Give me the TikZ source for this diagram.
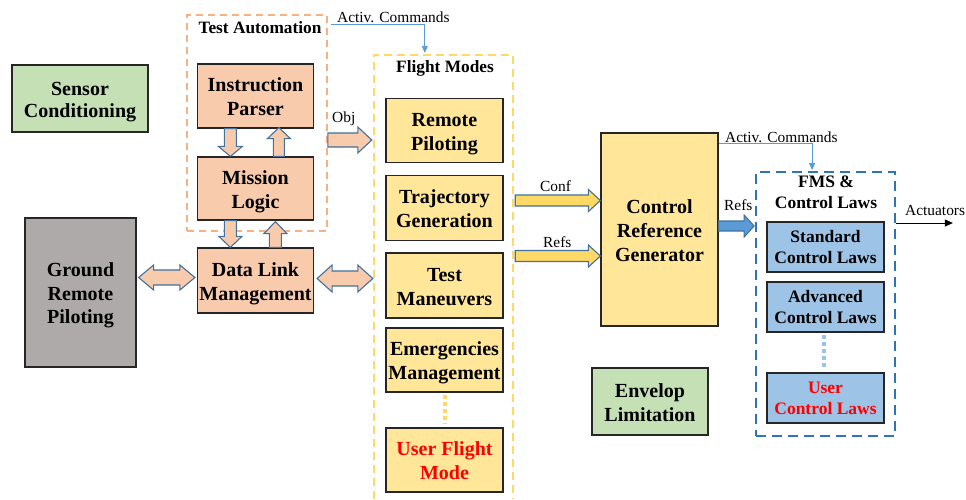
\documentclass[tikz,border=0pt]{standalone}
\usepackage{fontspec}
\setmainfont{Liberation Serif}
\usetikzlibrary{calc,arrows.meta}
\definecolor{peach}{HTML}{F8CBAD}
\definecolor{peachdash}{HTML}{F4B183}
\definecolor{boxline}{HTML}{262626}
\definecolor{arrline}{HTML}{41719C}
\definecolor{grayfill}{HTML}{AEAAAA}
\definecolor{greenfill}{HTML}{C5E0B4}
\definecolor{yellowfill}{HTML}{FFE699}
\definecolor{yellowarr}{HTML}{FFD966}
\definecolor{yellowdash}{HTML}{FFD966}
\definecolor{bluefill}{HTML}{9DC3E6}
\definecolor{bluearr}{HTML}{5B9BD5}
\definecolor{bluedash}{HTML}{2E75B6}
\definecolor{redtext}{HTML}{FF0000}
\newcommand\tS{\rule{0pt}{20pt}}
\newcommand\tSs{\rule{0pt}{16pt}}
\newcommand\blockarr[6]{% style, A, B, shaft half, head half, head length
  \coordinate (tmpH) at ($#3!#6!#2$);
  \path[#1] ($#2!#4!90:#3$) -- ($(tmpH)!#4!-90:#2$) -- ($(tmpH)!#5!-90:#2$) -- #3
    -- ($(tmpH)!#5!90:#2$) -- ($(tmpH)!#4!90:#2$) -- ($#2!#4!-90:#3$) -- cycle;
}
\newcommand\dblockarr[6]{% style, A, B, shaft half, head half, head length
  \coordinate (tmpHa) at ($#2!#6!#3$);
  \coordinate (tmpHb) at ($#3!#6!#2$);
  \path[#1] #2 -- ($(tmpHa)!#5!90:#3$) -- ($(tmpHa)!#4!90:#3$) -- ($(tmpHb)!#4!-90:#2$)
    -- ($(tmpHb)!#5!-90:#2$) -- #3 -- ($(tmpHb)!#5!90:#2$) -- ($(tmpHb)!#4!90:#2$)
    -- ($(tmpHa)!#4!-90:#3$) -- ($(tmpHa)!#5!-90:#3$) -- cycle;
}
\tikzset{
  botstrut/.style={execute at end node={\rule[-#1]{0pt}{0pt}}},
  box/.style={draw=boxline, line width=1.2pt, inner sep=0pt, align=center,
    font=\fontsize{20}{24}\selectfont\bfseries, botstrut=4.4pt},
  smallbox/.style={box, font=\fontsize{17.5}{20.5}\selectfont\bfseries, botstrut=4pt},
  grouptitle/.style={inner sep=0pt, anchor=base, font=\fontsize{17.3}{20}\selectfont\bfseries, align=center},
  lbl/.style={inner sep=0pt, anchor=base west, font=\fontsize{15.4}{18}\selectfont},
  peacharr/.style={draw=arrline, fill=peach, line width=1.1pt, line join=miter},
  yellowarrow/.style={draw=arrline, fill=yellowarr, line width=1.1pt, line join=miter},
  bluearrow/.style={draw=arrline, fill=bluearr, line width=1.1pt, line join=miter},
  act/.style={draw=bluearr, line width=0.9pt, -{Triangle[length=7pt,width=6pt]}},
  actu/.style={draw=black, line width=1pt, -{Triangle[length=8pt,width=7pt]}},
  tadash/.style={draw=peachdash, line width=1.8pt, dash pattern=on 7pt off 5pt},
  fmdash/.style={draw=yellowdash, line width=1.8pt, dash pattern=on 8pt off 5pt},
  fmsdash/.style={draw=bluedash, line width=1.8pt, dash pattern=on 10pt off 6pt},
}
\begin{document}
\begin{tikzpicture}[x=1pt,y=-1pt]
\useasboundingbox[fill=white] (0,0) rectangle (966,499);

% groups
\node[tadash, minimum width=140pt, minimum height=216pt, inner sep=0pt] (ta) at (257,123) {};
\node[minimum width=139pt, minimum height=444pt, inner sep=0pt] (fm) at (443.5,277) {};
\draw[fmdash] (fm.south west) -- (fm.north west) -- (fm.north east) -- (fm.south east);
\node[fmsdash, minimum width=139pt, minimum height=264pt, inner sep=0pt] (fms) at (825.5,304) {};

\node[grouptitle] (tat) at (260,33) {Test Automation};
\node[grouptitle] (fmt) at (445,72) {Flight Modes};
\node[grouptitle, anchor=center, botstrut=4pt, font=\fontsize{17.5}{21}\selectfont\bfseries] (fmst) at (826,192) {\tSs FMS \&\\Control Laws};

% left blocks
\node[box, fill=greenfill, minimum width=136pt, minimum height=67pt,
  font=\fontsize{20}{22.5}\selectfont\bfseries] (sc) at (80,98.5) {\tS Sensor\\Conditioning};
\node[box, fill=grayfill, minimum width=111pt, minimum height=149pt,
  font=\fontsize{20}{23.5}\selectfont\bfseries] (grp) at (80.5,292.5) {\tS Ground\\Remote\\Piloting};

% test automation
\node[box, fill=peach, minimum width=116pt, minimum height=64pt] (ip) at (255.5,96) {\tS Instruction\\Parser};
\node[box, fill=peach, minimum width=116pt, minimum height=63pt] (ml) at (255.5,188.5) {\tS Mission\\Logic};
\node[box, fill=peach, minimum width=116pt, minimum height=65pt] (dl) at (255.5,280.5) {\tS Data Link\\Management};

% flight modes
\node[box, fill=yellowfill, minimum width=117pt, minimum height=64pt] (rp) at (444.5,130.5) {\tS Remote\\Piloting};
\node[box, fill=yellowfill, minimum width=117pt, minimum height=65pt] (tg) at (444.5,208) {\tS Trajectory\\Generation};
\node[box, fill=yellowfill, minimum width=117pt, minimum height=65pt] (tm) at (444.5,285.5) {\tS Test\\Maneuvers};
\node[box, fill=yellowfill, minimum width=117pt, minimum height=64pt] (em) at (444.5,360) {\tS Emergencies\\Management};
\node[box, fill=yellowfill, minimum width=117pt, minimum height=64pt, text=redtext] (uf) at (444.5,460) {\tS User Flight\\Mode};
\draw[draw=yellowarr, line width=4pt, dash pattern=on 4pt off 3pt, shorten <=2pt, shorten >=4pt] (em.south) -- (uf.north);

% control reference generator and envelope
\node[box, fill=yellowfill, minimum width=117pt, minimum height=193pt] (crg) at (659.5,229.5) {\tS Control\\Reference\\Generator};
\node[box, fill=greenfill, minimum width=116pt, minimum height=67pt] (env) at (650,401.5) {\tS Envelop\\Limitation};

% FMS
\node[smallbox, fill=bluefill, minimum width=117pt, minimum height=50pt] (scl) at (825.5,247) {\tSs Standard\\Control Laws};
\node[smallbox, fill=bluefill, minimum width=117pt, minimum height=50pt] (acl) at (825.5,307) {\tSs Advanced\\Control Laws};
\node[smallbox, fill=bluefill, minimum width=117pt, minimum height=50pt, text=redtext] (ucl) at (825.5,398) {\tSs User\\Control Laws};
\draw[draw=bluefill, line width=4pt, dash pattern=on 4pt off 3pt, shorten <=2pt, shorten >=4pt]
  ($(acl.south)+(-2,0)$) -- ($(ucl.north)+(-2,0)$);

% block arrows in test automation
\blockarr{peacharr}{($(ip.south west)+(33.5,0)$)}{($(ml.north west)+(33.5,0)$)}{6pt}{12pt}{10pt}
\blockarr{peacharr}{($(ml.north west)+(82,0)$)}{($(ip.south west)+(82,-1)$)}{5.5pt}{11.5pt}{11pt}
\blockarr{peacharr}{($(ml.south west)+(33.5,0)$)}{($(dl.north west)+(33.5,0)$)}{6pt}{11.5pt}{11pt}
\blockarr{peacharr}{($(dl.north west)+(78.5,0)$)}{($(ml.south west)+(78.5,1)$)}{6pt}{11.5pt}{12pt}

% double arrows
\dblockarr{peacharr}{($(grp.east)+(2,-15)$)}{($(dl.west)+(-2,-3)$)}{7.5pt}{12.5pt}{15pt}
\dblockarr{peacharr}{($(dl.east)+(3,-2)$)}{($(fm.west)+(-1,1.5)$)}{7.5pt}{13.5pt}{15pt}

% Obj arrow
\coordinate (objA) at ($(ta.east)+(0,17)$);
\blockarr{peacharr}{(objA)}{($(fm.west |- objA)+(-2,0)$)}{7pt}{13pt}{14pt}
\node[lbl] (objl) at (332,122) {Obj};

% Conf / Refs arrows
\coordinate (confB) at ($(crg.west)+(0,-29)$);
\coordinate (refsB) at ($(crg.west)+(0,26.5)$);
\blockarr{yellowarrow}{($(fm.east |- confB)+(2,0)$)}{(confB)}{5.5pt}{11pt}{12pt}
\blockarr{yellowarrow}{($(fm.east |- refsB)+(2,0)$)}{(refsB)}{5.5pt}{11pt}{12pt}
\node[lbl] (confl) at (540,191) {Conf};
\node[lbl] (refsl) at (543,247) {Refs};

% blue Refs arrow
\coordinate (brA) at ($(crg.east)+(0,-3.5)$);
\blockarr{bluearrow}{(brA)}{($(fms.west |- brA)+(-1,0)$)}{5pt}{11pt}{10pt}
\node[lbl] (brefsl) at (724,210) {Refs};

% activation commands
\draw[act] ($(ta.north east)+(3,10)$) -| ($(fm.north west)+(51,-2)$);
\node[lbl] (act1) at (337,22) {Activ. Commands};
\draw[act] ($(crg.north east)+(0,11)$) -| ($(fms.north west)+(57,-1)$);
\node[lbl] (act2) at (725,142) {Activ. Commands};

% actuators
\coordinate (actS) at ($(fms.east)+(0,-81)$);
\coordinate (actE) at ($(actS)+(57,0)$);
\draw[actu] (actS) -- (actE);
\node[lbl] (actl) at (905,215) {Actuators};
\end{tikzpicture}
\end{document}
